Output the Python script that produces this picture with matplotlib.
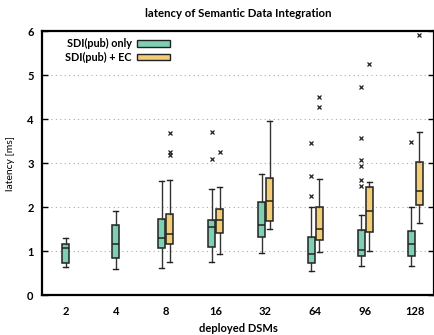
import matplotlib
matplotlib.use("Agg")
import matplotlib.pyplot as plt
from matplotlib.patches import Patch

# deployed DSMs (categories on x axis)
dsms = ["2", "4", "8", "16", "32", "64", "96", "128"]

# SDI(pub) only -- box stats
only_lo = [0.63, 0.59, 0.61, 0.75, 0.96, 0.55, 0.67, 0.67]
only_q1 = [0.73, 0.85, 1.06, 1.09, 1.31, 0.73, 0.88, 0.89]
only_med = [1.08, 1.15, 1.30, 1.54, 1.59, 0.94, 1.03, 1.15]
only_q3 = [1.16, 1.60, 1.72, 1.71, 2.12, 1.32, 1.47, 1.46]
only_hi = [1.30, 1.92, 2.59, 2.42, 2.76, 2.01, 1.83, 2.00]
only_fliers = [[], [], [], [3.70, 3.09], [], [3.46, 2.70, 2.26],
               [4.73, 3.56, 3.06, 2.94, 2.62, 2.47], [3.49]]

# SDI(pub) + EC -- only measured from 8 DSMs on
ec_idx = [2, 3, 4, 5, 6, 7]
ec_lo = [0.76, 0.94, 1.51, 0.97, 1.00, 1.64]
ec_q1 = [1.17, 1.40, 1.68, 1.24, 1.43, 2.05]
ec_med = [1.39, 1.70, 2.14, 1.51, 1.92, 2.37]
ec_q3 = [1.85, 1.96, 2.66, 1.99, 2.45, 3.03]
ec_hi = [2.62, 2.46, 3.95, 2.64, 2.57, 3.71]
ec_fliers = [[3.69, 3.25, 3.18], [3.26], [], [4.50, 4.28], [5.25], [5.91]]

teal = "#7fd0b3"
yellow = "#f2cd76"

plt.rcParams['font.family'] = ['Lato', 'DejaVu Sans']

fig = plt.figure(figsize=(4.35, 3.35), dpi=100)
ax = fig.add_axes([0.0966, 0.1194, 0.9014, 0.7876])


def make_stats(lo, q1, med, q3, hi, fliers):
    stats = []
    for i in range(len(med)):
        stats.append({'whislo': lo[i], 'q1': q1[i], 'med': med[i],
                      'q3': q3[i], 'whishi': hi[i], 'fliers': fliers[i]})
    return stats


def draw(stats, positions, color):
    ax.bxp(stats, positions=positions, widths=0.14, capwidths=0.1,
           patch_artist=True, showfliers=True,
           boxprops=dict(facecolor=color, edgecolor='#222222', linewidth=1.1),
           medianprops=dict(color='#222222', linewidth=1.1),
           whiskerprops=dict(color='#333333', linewidth=1.0),
           capprops=dict(color='#222222', linewidth=1.0),
           flierprops=dict(marker='x', markersize=2.5, markeredgecolor='#222222',
                           markeredgewidth=0.9, linestyle='none'),
           zorder=3)


# groups with both series get shifted apart
only_pos = [0, 1] + [i - 0.08 for i in range(2, len(dsms))]
ec_pos = [i + 0.08 for i in ec_idx]

draw(make_stats(only_lo, only_q1, only_med, only_q3, only_hi, only_fliers), only_pos, teal)
draw(make_stats(ec_lo, ec_q1, ec_med, ec_q3, ec_hi, ec_fliers), ec_pos, yellow)

ax.set_xlim(-0.48, 7.38)
ax.set_ylim(0, 6)
ax.set_xticks(range(len(dsms)))
ax.set_xticklabels(dsms)
ax.set_yticks(range(0, 7))
ax.tick_params(axis='x', length=0, pad=8, labelsize=8)
ax.tick_params(axis='y', direction='in', length=4, width=1.0, right=True, labelsize=8, pad=6)
for lab in ax.get_xticklabels() + ax.get_yticklabels():
    lab.set_fontweight('bold')

for y in range(1, 6):
    ax.axhline(y, color='#aaaaaa', linestyle=(0, (1, 3)), linewidth=0.8, zorder=1)

for sp in ax.spines.values():
    sp.set_linewidth(1.6)

ax.set_title("latency of Semantic Data Integration", fontsize=8.2, fontweight='bold', pad=10)
ax.set_xlabel("deployed DSMs", fontsize=8, fontweight='bold', labelpad=4)
ax.set_ylabel("latency [ms]", fontsize=7.5, labelpad=9)

handles = [Patch(facecolor=teal, edgecolor='#222222', linewidth=1.0, label="SDI(pub) only"),
           Patch(facecolor=yellow, edgecolor='#222222', linewidth=1.0, label="SDI(pub) + EC")]
ax.legend(handles=handles, loc='upper left', bbox_to_anchor=(0.035, 1.01),
          frameon=False, markerfirst=False, handlelength=3.0, handleheight=0.55,
          labelspacing=0.25, handletextpad=0.5,
          prop={'size': 7.8, 'weight': 'bold'})

fig.savefig("out.png", dpi=100)
